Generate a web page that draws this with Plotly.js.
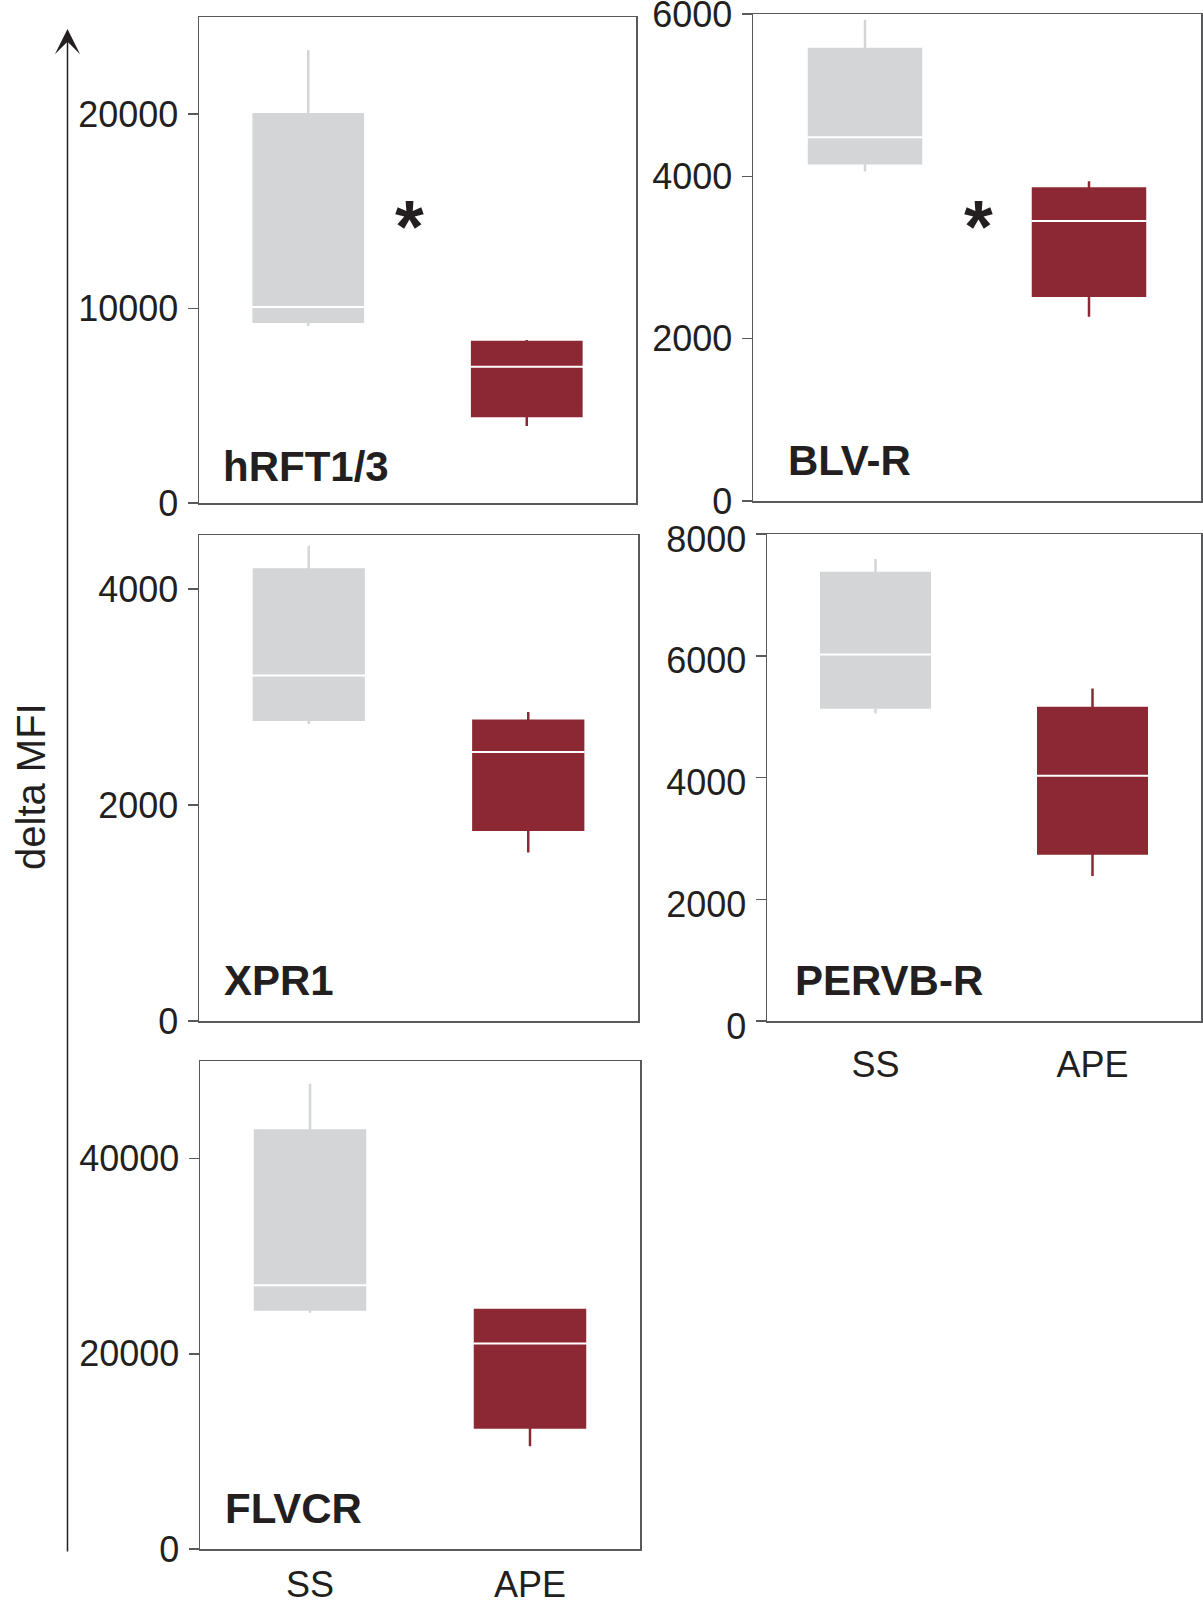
<!DOCTYPE html>
<html><head><meta charset="utf-8">
<script src="https://cdn.plot.ly/plotly-3.0.1.min.js"></script>
<style>html,body{margin:0;padding:0;background:#fff}#chart{width:1203px;height:1602px}</style>
</head><body><div id="chart"></div>
<script>
// ---- data ----
const panels = ['hRFT1/3', 'BLV-R', 'XPR1', 'PERVB-R', 'FLVCR'];
const groups = ['SS', 'APE'];
const ssLower  = [9100, 4060, 2750, 5050, 24200];
const ssQ1     = [9320, 4160, 2790, 5150, 24550];
const ssMedian = [10080, 4480, 3200, 6020, 27030];
const ssQ3     = [20000, 5570, 4180, 7360, 42880];
const ssUpper  = [23300, 5930, 4400, 7590, 47660];
const apeLower  = [3960, 2270, 1560, 2380, 10520];
const apeQ1     = [4470, 2530, 1770, 2750, 12440];
const apeMedian = [7010, 3450, 2490, 4030, 21060];
const apeQ3     = [8280, 3850, 2780, 5140, 24500];
const apeUpper  = [8380, 3940, 2860, 5460, 24610];
const yMax = [25000, 6000, 4500, 8000, 50000];
const yTickStep = [10000, 2000, 2000, 2000, 20000];
const significant = [true, true, false, false, false];
const yTitle = 'delta MFI';

// ---- style / layout ----
const W = 1203, H = 1602;
const SS_COLOR = '#d4d5d7', APE_COLOR = '#8c2833';
const FRAME = '#58595b', TXT = '#231f20';
const FONT = 'Liberation Sans, Arial, sans-serif';
// frame boxes in px [x0, x1, y0(top), y1(bottom)]
const frames = [[199,636,17,503],[753,1201,14,501],[199,638,535,1021],[767,1201,534,1021],[200,640,1061,1549]];
const showX = [false, false, false, true, true];
const xStandoff = [0, 0, 0, 11, 3];
const yLabelShift = [0, 0, 0, 5, 0];
const labelPos = [[221,466],[786,460],[222,980],[793,980],[223,1508]];
const starPos = [[409,215],[978,215]];

const traces = [];
const layout = {
  width: W, height: H, margin: {l:0, r:0, t:0, b:0},
  paper_bgcolor: '#fff', plot_bgcolor: '#fff', showlegend: false,
  font: {family: FONT, color: TXT},
  annotations: [], shapes: []
};

panels.forEach((name, i) => {
  const n = i + 1, xa = 'x' + n, ya = 'y' + n;
  const common = {type:'box', xaxis:xa, yaxis:ya, whiskerwidth:0, width:0.5, boxpoints:false, hoverinfo:'skip'};
  traces.push(Object.assign({}, common, {
    x:[groups[0]], q1:[ssQ1[i]], median:[ssMedian[i]], q3:[ssQ3[i]],
    lowerfence:[ssLower[i]], upperfence:[ssUpper[i]],
    fillcolor: SS_COLOR, line:{color: SS_COLOR, width: 2.5}
  }));
  traces.push(Object.assign({}, common, {
    x:[groups[1]], q1:[apeQ1[i]], median:[apeMedian[i]], q3:[apeQ3[i]],
    lowerfence:[apeLower[i]], upperfence:[apeUpper[i]],
    fillcolor: APE_COLOR, line:{color: APE_COLOR, width: 2.5}
  }));
  // white median lines
  const med = [ssMedian[i], apeMedian[i]];
  traces.push(Object.assign({}, common, {
    x: groups, q1: med, median: med, q3: med, lowerfence: med, upperfence: med,
    width: 0.515, fillcolor:'rgba(0,0,0,0)', line:{color:'#ffffff', width:2}
  }));

  const f = frames[i];
  layout['xaxis' + n] = {
    domain:[f[0]/W, f[1]/W], anchor: ya, type:'category',
    categoryorder:'array', categoryarray: groups, range:[-0.5, 1.5],
    showline:true, mirror:true, linecolor:FRAME, linewidth:1.5,
    ticks:'', showticklabels: showX[i], ticklabelstandoff: xStandoff[i],
    tickfont:{family:FONT, size:36, color:TXT},
    showgrid:false, zeroline:false, fixedrange:true
  };
  layout['yaxis' + n] = {
    domain:[1 - f[3]/H, 1 - f[2]/H], anchor: xa,
    range:[0, yMax[i]], tick0:0, dtick: yTickStep[i], tickformat:'d',
    ticks:'outside', ticklen:10, tickwidth:1.5, tickcolor:FRAME,
    showline:true, mirror:true, linecolor:FRAME, linewidth:1.5,
    tickfont:{family:FONT, size:36, color:TXT}, ticklabelstandoff: 2,
    ticklabeloverflow:'allow', ticklabelshift: yLabelShift[i],
    showgrid:false, zeroline:false, fixedrange:true
  };
  layout.annotations.push({
    xref:'paper', yref:'paper', x: labelPos[i][0]/W, y: 1 - labelPos[i][1]/H,
    xanchor:'left', yanchor:'middle', showarrow:false, text: name,
    font:{family:FONT, size:42, color:TXT, weight:'bold'}
  });
});

let s = 0;
significant.forEach((sig, i) => {
  if (!sig) return;
  const p = starPos[s++];
  layout.annotations.push({
    xref:'paper', yref:'paper', x: p[0]/W, y: 1 - p[1]/H,
    xanchor:'center', yanchor:'middle', showarrow:false, text:'*', yshift:-11,
    font:{family:FONT, size:74, color:TXT, weight:'bold'}
  });
});

// y title and arrow
layout.annotations.push({
  xref:'paper', yref:'paper', x: 31/W, y: 1 - 787/H, textangle:-90,
  xanchor:'center', yanchor:'middle', showarrow:false, text: yTitle,
  font:{family:FONT, size:40, color:TXT}
});
layout.annotations.push({
  xref:'paper', yref:'paper', x: 67.5/W, y: 1 - 29/H, text:'',
  showarrow:true, arrowhead:3, arrowsize:2.8, arrowwidth:1.5, arrowcolor:TXT,
  ax:0, ay:1553-29, standoff:0
});

Plotly.newPlot('chart', traces, layout, {staticPlot:true, displayModeBar:false});
</script>
</body></html>
